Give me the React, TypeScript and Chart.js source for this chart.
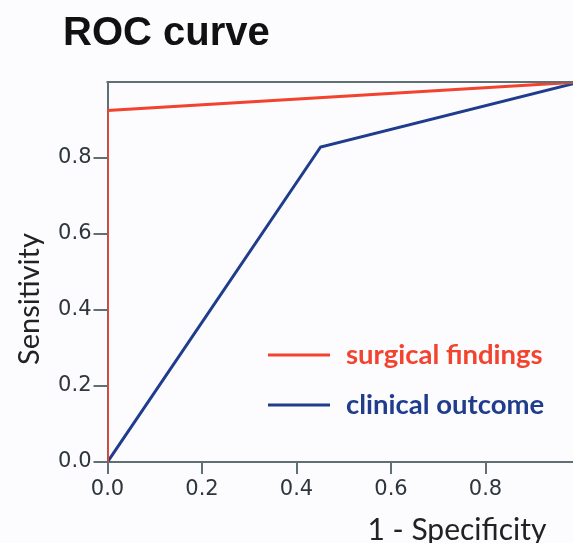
import React, { useEffect, useRef } from "react";
import { Chart, registerables } from "chart.js";

Chart.register(...registerables);

const titleText = "ROC curve";
const xAxisTitle = "1 - Specificity";
const yAxisTitle = "Sensitivity";
const seriesNames = ["surgical findings", "clinical outcome"];
const seriesColors = ["#f2432f", "#1f3d8c"];
const surgicalX = [0, 0, 1];
const surgicalY = [0, 0.925, 1];
const clinicalX = [0, 0.451, 1];
const clinicalY = [0, 0.829, 1];
const tickValues = [0, 0.2, 0.4, 0.6, 0.8];

const AXIS_COLOR = "#5f6f72";

const overlayPlugin = {
  id: "overlay",
  beforeDraw(chart: any) {
    const ctx = chart.ctx;
    ctx.save();
    ctx.fillStyle = "#fcfcfe";
    ctx.fillRect(0, 0, chart.width, chart.height);
    ctx.restore();
  },
  afterDatasetsDraw(chart: any) {
    const ctx = chart.ctx;
    const a = chart.chartArea;
    ctx.save();
    // top border
    ctx.strokeStyle = AXIS_COLOR;
    ctx.lineWidth = 2;
    ctx.beginPath();
    ctx.moveTo(a.left - 1, a.top);
    ctx.lineTo(a.right, a.top);
    ctx.stroke();
    // title
    ctx.fillStyle = "#111";
    ctx.font = "bold 40px 'Liberation Sans', Arial, sans-serif";
    ctx.textBaseline = "alphabetic";
    ctx.textAlign = "left";
    ctx.fillText(titleText, 63, 45);
    // x axis title
    ctx.fillStyle = "#222";
    ctx.font = "30px Lato, sans-serif";
    ctx.textAlign = "center";
    ctx.fillText(xAxisTitle, 457, 540);
    // y axis title
    ctx.save();
    ctx.font = "29px Lato, sans-serif";
    ctx.translate(39, 299);
    ctx.rotate(-Math.PI / 2);
    ctx.textAlign = "center";
    ctx.fillText(yAxisTitle, 0, 0);
    ctx.restore();
    // legend
    const items = chart.data.datasets;
    items.forEach((ds: any, i: number) => {
      const y = a.top + 273 + i * 50;
      ctx.strokeStyle = ds.borderColor;
      ctx.lineWidth = 3;
      ctx.beginPath();
      ctx.moveTo(268, y);
      ctx.lineTo(330, y);
      ctx.stroke();
      ctx.fillStyle = ds.borderColor;
      ctx.font = "bold 27.5px Lato, sans-serif";
      ctx.textAlign = "left";
      ctx.textBaseline = "alphabetic";
      ctx.fillText(ds.label, 346, y + 9);
    });
    ctx.restore();
  },
};

export default function App() {
  const ref = useRef<HTMLCanvasElement | null>(null);
  useEffect(() => {
    if (!ref.current) return;
    const toPts = (xs: number[], ys: number[]) => xs.map((x, i) => ({ x, y: ys[i] }));
    const tickFont = { family: "'DejaVu Sans', Verdana, sans-serif", size: 21 };
    const chart = new Chart(ref.current, {
      type: "line",
      data: {
        datasets: [
          {
            label: seriesNames[0],
            data: toPts(surgicalX, surgicalY),
            borderColor: seriesColors[0],
            borderWidth: 3,
            pointRadius: 0,
            tension: 0,
          },
          {
            label: seriesNames[1],
            data: toPts(clinicalX, clinicalY),
            borderColor: seriesColors[1],
            borderWidth: 3,
            pointRadius: 0,
            tension: 0,
          },
        ],
      },
      options: {
        animation: false,
        responsive: false,
        maintainAspectRatio: false,
        layout: { padding: { left: 0, right: 20, top: 82, bottom: 0 } },
        plugins: { legend: { display: false }, tooltip: { enabled: false }, title: { display: false } },
        scales: {
          x: {
            type: "linear",
            min: 0,
            max: 1,
            afterBuildTicks: (s: any) => {
              s.ticks = tickValues.map((v) => ({ value: v }));
            },
            afterFit: (s: any) => {
              s.height = 81;
            },
            ticks: {
              color: "#2e353b",
              font: tickFont,
              padding: 3,
              maxRotation: 0,
              callback: (v: any) => Number(v).toFixed(1),
            },
            grid: {
              display: true,
              drawOnChartArea: false,
              drawTicks: true,
              tickLength: 12,
              color: AXIS_COLOR,
              lineWidth: 2,
            },
            border: { display: true, color: AXIS_COLOR, width: 2 },
          },
          y: {
            type: "linear",
            min: 0,
            max: 1,
            afterBuildTicks: (s: any) => {
              s.ticks = tickValues.map((v) => ({ value: v }));
            },
            afterFit: (s: any) => {
              s.width = 107.5;
            },
            ticks: {
              color: "#2e353b",
              font: tickFont,
              padding: 2,
              callback: (v: any) => Number(v).toFixed(1),
            },
            grid: {
              display: true,
              drawOnChartArea: false,
              drawTicks: true,
              tickLength: 14,
              color: AXIS_COLOR,
              lineWidth: 2,
            },
            border: { display: true, color: AXIS_COLOR, width: 2 },
          },
        },
      },
      plugins: [overlayPlugin],
    });
    return () => chart.destroy();
  }, []);
  return (
    <div
      style={{
        position: "fixed",
        left: 0,
        top: 0,
        width: 573,
        height: 543,
        overflow: "hidden",
        background: "#fcfcfe",
      }}
    >
      <canvas ref={ref} width={600} height={543} style={{ display: "block" }} />
    </div>
  );
}
